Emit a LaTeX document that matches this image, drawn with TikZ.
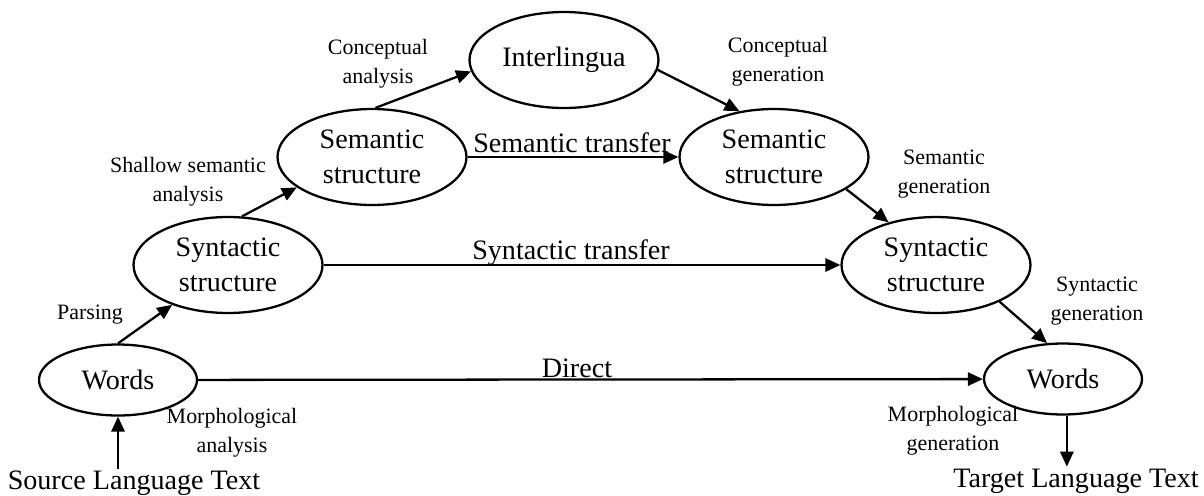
\documentclass[tikz,border=0pt]{standalone}
\usepackage{fontspec}
\setmainfont{Liberation Serif}
\usetikzlibrary{shapes.geometric,arrows.meta}

\begin{document}
\begin{tikzpicture}[x=0.02cm, y=-0.02cm]
		\tikzset{nd/.style={ellipse, draw=black, line width=1.3pt, inner sep=0pt, minimum width=3.78cm, minimum height=1.92cm, align=center, font=\fontsize{16}{20}\selectfont}};
		\tikzset{wd/.style={nd, minimum width=3.16cm, minimum height=1.42cm}};
		\tikzset{lbl/.style={align=center, inner sep=1pt, font=\fontsize{12.5}{16.5}\selectfont}};
		\tikzset{big/.style={align=center, inner sep=1pt, font=\fontsize{16}{20}\selectfont}};
		\tikzset{arr/.style={-{Triangle[length=8.5pt,width=7.5pt]}, line width=1.3pt}};

		\useasboundingbox (0, 0) rectangle (1204, 495);

		\node[nd] (inter) at (564, 60) {Interlingua};
		\node[nd] (semL) at (372, 157) {Semantic\\structure};
		\node[nd] (semR) at (774, 157) {Semantic\\structure};
		\node[nd] (synL) at (228, 265) {Syntactic\\structure};
		\node[nd] (synR) at (936, 265) {Syntactic\\structure};
		\node[wd] (wordsL) at (118, 380) {Words};
		\node[wd] (wordsR) at (1063, 379) {Words};

		\node[big] (src) at (134, 483) {Source Language Text};
		\node[big] (tgt) at (1076, 481) {Target Language Text};

		\node[lbl] (parse) at (90, 315) {Parsing};
		\node[lbl] (morphA) at (232, 433) {Morphological\\analysis};
		\node[lbl] (shallow) at (188, 182) {Shallow semantic\\analysis};
		\node[lbl] (concA) at (378, 64) {Conceptual\\analysis};
		\node[lbl] (concG) at (778, 62) {Conceptual\\generation};
		\node[lbl] (semG) at (944, 174) {Semantic\\generation};
		\node[lbl] (synG) at (1097, 301) {Syntactic\\generation};
		\node[lbl] (morphG) at (953, 431) {Morphological\\generation};

		\node[big] (semT) at (572, 143) {Semantic transfer};
		\node[big] (synT) at (571, 253) {Syntactic transfer};
		\node[big] (direct) at (577, 368) {Direct};

		\draw[arr] (src.north -| wordsL) to (wordsL);
		\draw[arr] (wordsL.north) to (synL);
		\draw[arr] (synL.74) to (semL.202);
		\draw[arr] (semL.86) to (inter.187);

		\draw[arr] (inter.-6) to (semR.127);
		\draw[arr] (semR.-24) to (synR.138);
		\draw[arr] (synR.-30) to (wordsR.114);
		\draw[arr] (wordsR.-84) to (wordsR.-84 |- tgt.north);

		\draw[arr] (semL) to (semR);
		\draw[arr] (synL) to (synR);
		\draw[arr] (wordsL) to (wordsR);
	\end{tikzpicture}
\end{document}
